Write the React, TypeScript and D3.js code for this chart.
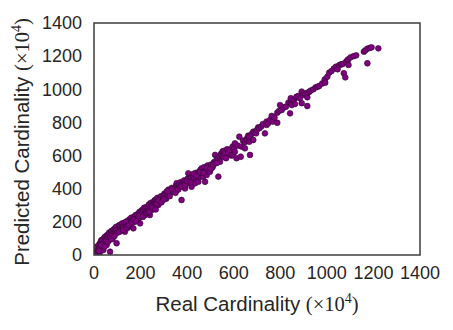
import React from "react";
import * as d3 from "d3";

const realCard: number[] = [
  2, 5, 8, 10, 12, 15, 18, 20, 22, 25, 26, 28, 30, 33, 35, 38, 40, 42, 45, 47, 50, 52, 54, 56, 58, 61, 63, 65, 69, 70, 72, 75, 78, 80, 83, 85, 88, 90, 92, 95, 97, 97, 100,
  105, 108, 112, 115, 118, 120, 124, 126, 130, 133, 135, 140, 142, 145, 150, 152, 155, 158, 160, 165, 169, 172, 175, 178, 183, 186, 190, 195, 198, 198, 202, 205, 208, 212, 215, 219, 222, 226, 230, 233, 236, 240, 240, 244, 248, 250, 255, 255, 258, 262, 262, 266, 269, 272, 276, 280, 283, 288, 292, 298,
  302, 305, 310, 312, 316, 320, 326, 330, 334, 340, 344, 348, 352, 355, 355, 360, 365, 369, 372, 376, 380, 383, 387, 391, 395, 398, 402, 405, 408, 412, 416, 419, 422, 426, 430, 434, 437, 441, 445, 448, 448, 452, 455, 458, 462, 462, 466, 469, 473, 477, 480, 484, 488, 492, 498, 502, 506, 510, 515, 520, 520, 525, 530, 534, 534, 538, 541, 545, 548, 552, 555, 558, 562, 567, 572, 577, 584, 590, 595, 595,
  600, 605, 605, 612, 618, 624, 630, 634, 640, 648, 648, 655, 658, 662, 667, 667, 670, 677, 684, 684, 690, 696, 699, 705, 710, 718, 725, 734, 741, 741, 748, 756, 763, 767, 775, 787, 787, 795, 799, 806, 815, 824, 835, 842, 845, 845, 849, 858, 863, 870, 870, 878, 884, 892, 892, 899,
  905, 916, 916, 918, 925, 930, 942, 952, 960, 967, 980, 991, 993, 1002, 1010, 1020, 1030, 1039, 1046, 1053, 1060, 1068, 1073, 1079, 1082, 1088, 1092, 1093, 1102, 1115, 1126, 1159, 1165, 1174, 1174, 1185, 1192, 1221,
];
const predCard: number[] = [
  5, 20, 12, 35, 50, 8, 28, 60, 40, 15, 71, 45, 85, 91, 55, 70, 30, 100, 80, 110, 65, 95, 60, 120, 105, 121, 90, 135, 20, 110, 130, 145, 120, 100, 141, 155, 130, 160, 145, 170, 151, 71, 135,
  160, 180, 161, 175, 150, 190, 170, 171, 195, 141, 185, 181, 205, 165, 200, 215, 201, 185, 225, 210, 161, 230, 200, 240, 221, 245, 215, 260, 252, 191, 235, 270, 250, 272, 285, 241, 265, 290, 275, 291, 305, 241, 280, 315, 272, 300, 302, 312, 325, 312, 332, 295, 332, 345, 302, 320, 342, 355, 335, 352,
  370, 362, 340, 382, 365, 395, 372, 390, 405, 382, 400, 402, 418, 392, 433, 410, 425, 412, 440, 332, 430, 422, 450, 402, 440, 433, 460, 493, 448, 453, 470, 412, 485, 473, 460, 433, 495, 463, 480, 442, 493, 505, 470, 515, 493, 523, 500, 473, 530, 442, 510, 483, 540, 520, 503, 545, 525, 533, 560, 553, 604, 570, 585, 473, 573, 595, 563, 610, 604, 625, 593, 628, 614, 584, 638, 614, 634, 600, 604, 654,
  640, 623, 674, 584, 660, 714, 593, 654, 690, 644, 682, 700, 698, 720, 684, 714, 604, 730, 694, 744, 740, 734, 754, 770, 765, 775, 790, 734, 785, 805, 795, 815, 839, 805, 830, 798, 859, 870, 905, 875, 890, 895, 920, 855, 916, 946, 905, 935, 911, 952, 955, 960, 946, 916, 986, 966,
  975, 899, 952, 980, 985, 992, 1000, 1012, 1015, 1020, 1035, 1060, 1040, 1076, 1100, 1110, 1125, 1136, 1121, 1145, 1150, 1153, 1097, 1072, 1165, 1175, 1181, 1147, 1193, 1200, 1205, 1227, 1235, 1245, 1157, 1250, 1253, 1247,
];
// extra points filling the dense lower part of the band
const extraReal: number[] = [
  20, 30, 45, 60, 75, 88, 110, 125, 138, 140, 148, 162, 170, 180, 192, 210, 225, 230, 238, 252, 265, 270, 278, 290,
  300, 315, 325, 338, 350, 362, 375, 390, 400, 415, 428, 440, 455, 470, 485, 500, 512, 527,
];
const extraPred: number[] = [
  25, 60, 50, 80, 95, 115, 140, 150, 200, 165, 180, 195, 215, 205, 235, 230, 250, 255, 260, 285, 275, 310, 330, 318,
  335, 385, 355, 395, 375, 395, 415, 420, 445, 440, 490, 478, 500, 495, 525, 520, 545, 555,
];
const tickValues: number[] = [0, 200, 400, 600, 800, 1000, 1200, 1400];

const W = 453;
const H = 330;
const left = 94, right = 420, top = 23, bottom = 255;
const textColor = "#262626";
const sans = "'Liberation Sans', Arial, sans-serif";
const serif = "'Liberation Serif', 'Times New Roman', serif";

const App = () => {
  const x = d3.scaleLinear().domain([0, 1400]).range([left, right]);
  const y = d3.scaleLinear().domain([0, 1400]).range([bottom, top]);
  const points = realCard
    .map((r, i) => ({ r, p: predCard[i] }))
    .concat(extraReal.map((r, i) => ({ r, p: extraPred[i] })));

  return (
    <svg width={W} height={H} style={{ position: "absolute", left: 0, top: 0, background: "#fff" }}>
      <defs>
        <clipPath id="plot">
          <rect x={left} y={top} width={right - left} height={bottom - top} />
        </clipPath>
      </defs>
      {/* scatter */}
      <g clipPath="url(#plot)">
        {points.map((d, i) => (
          <circle key={i} cx={x(d.r)} cy={y(d.p)} r={2.9} fill="#800080" stroke="#2b0a2b" strokeWidth={0.6} />
        ))}
      </g>
      {/* frame */}
      <rect x={left} y={top} width={right - left} height={bottom - top} fill="none" stroke="#3d3d3d" strokeWidth={1.5} />
      {/* tick labels */}
      <g fontFamily={sans} fontSize={18} fill={textColor}>
        {tickValues.map(t => (
          <text key={"x" + t} x={x(t)} y={279} textAnchor="middle">{t}</text>
        ))}
        {tickValues.map(t => (
          <text key={"y" + t} x={82} y={y(t)} dy="0.35em" textAnchor="end">{t}</text>
        ))}
      </g>
      {/* axis labels */}
      <text x={257} y={311} textAnchor="middle" fontFamily={sans} fontSize={20.5} fill={textColor}>
        Real Cardinality{" "}
        <tspan fontFamily={serif}>(×10</tspan>
        <tspan fontFamily={serif} fontSize={14} dy={-8}>4</tspan>
        <tspan fontFamily={serif} dy={8}>)</tspan>
      </text>
      <text transform="translate(29,142) rotate(-90)" textAnchor="middle" fontFamily={sans} fontSize={20.5} fill={textColor}>
        Predicted Cardinality{" "}
        <tspan fontFamily={serif}>(×10</tspan>
        <tspan fontFamily={serif} fontSize={14} dy={-8}>4</tspan>
        <tspan fontFamily={serif} dy={8}>)</tspan>
      </text>
    </svg>
  );
};

export default App;
